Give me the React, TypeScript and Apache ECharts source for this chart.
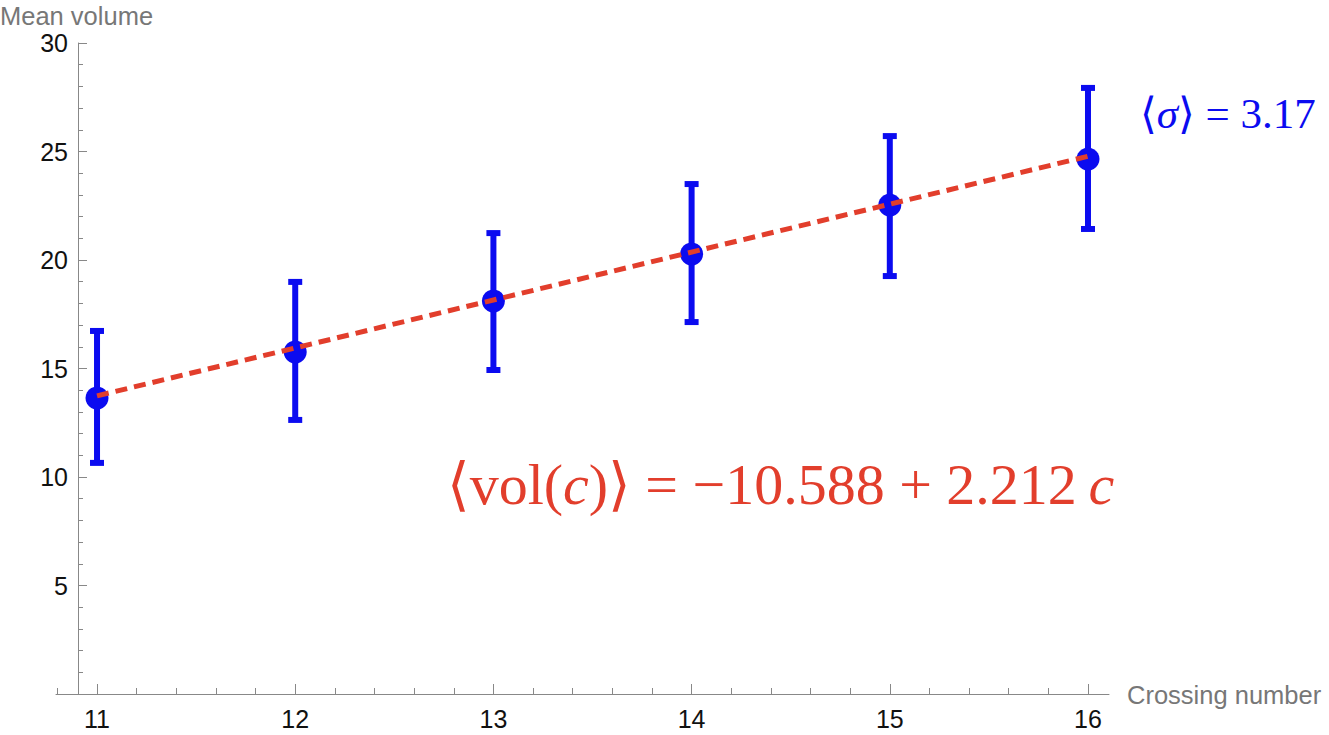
import React, { useEffect, useRef } from "react";
import * as echarts from "echarts";

const crossing = [11, 12, 13, 14, 15, 16];
const meanVolume = [13.64, 15.76, 18.11, 20.28, 22.53, 24.65];
const lowerBound = [10.65, 12.63, 14.93, 17.14, 19.26, 21.43];
const upperBound = [16.73, 18.99, 21.24, 23.5, 25.71, 27.93];
const fitX = [11, 16];
const fitY = [13.74, 24.78];
const xTickValues = [11, 12, 13, 14, 15, 16];
const xMinorTickValues = [
  10.8, 11.2, 11.4, 11.6, 11.8, 12.2, 12.4, 12.6, 12.8, 13.2, 13.4, 13.6, 13.8,
  14.2, 14.4, 14.6, 14.8, 15.2, 15.4, 15.6, 15.8, 16.2,
];
const xLabel = "Crossing number";
const yLabel = "Mean volume";

const BLUE = "#0b0bf0";
const RED = "#e23e2c";
const AXIS = "#888888";
const FONT = "Arial, 'Liberation Sans', Helvetica, sans-serif";
const SERIF = "'Liberation Serif', 'DejaVu Serif', serif";

export default function App() {
  const ref = useRef<HTMLDivElement>(null);
  useEffect(() => {
    if (!ref.current) return;
    const chart = echarts.init(ref.current, undefined, { renderer: "svg" });
    const errData = crossing.map((c, i) => [c, lowerBound[i], upperBound[i]]);
    const meanData = crossing.map((c, i) => [c, meanVolume[i]]);
    const fitData = fitX.map((x, i) => [x, fitY[i]]);
    const option: any = {
      animation: false,
      backgroundColor: "#ffffff",
      grid: { left: 56, right: 220, top: 43, bottom: 41, containLabel: false },
      xAxis: [
        {
          type: "value",
          min: 10.793,
          max: 16.106,
          axisLine: { show: true, lineStyle: { color: AXIS, width: 1 } },
          axisTick: {
            show: true,
            inside: true,
            length: 10,
            customValues: xTickValues,
            lineStyle: { color: AXIS, width: 1 },
          },
          axisLabel: {
            show: true,
            customValues: xTickValues,
            margin: 12,
            color: "#111",
            fontSize: 25,
            fontFamily: FONT,
          },
          splitLine: { show: false },
        },
        {
          type: "value",
          min: 10.793,
          max: 16.106,
          position: "bottom",
          axisLine: { show: false },
          axisTick: {
            show: true,
            inside: true,
            length: 6,
            customValues: xMinorTickValues,
            lineStyle: { color: AXIS, width: 1 },
          },
          axisLabel: { show: false },
          splitLine: { show: false },
        },
      ],
      yAxis: {
        type: "value",
        min: 0,
        max: 30,
        interval: 5,
        offset: -22,
        axisLine: { show: true, onZero: false, lineStyle: { color: AXIS, width: 1 } },
        axisTick: { show: true, inside: true, length: 9, lineStyle: { color: AXIS, width: 1 } },
        minorTick: { show: true, splitNumber: 5, length: 5, lineStyle: { color: AXIS, width: 1 } },
        axisLabel: {
          margin: 10,
          color: "#111",
          fontSize: 25,
          fontFamily: FONT,
          formatter: (v: number) => (v === 0 ? "" : String(v)),
        },
        splitLine: { show: false },
        minorSplitLine: { show: false },
      },
      series: [
        {
          type: "custom",
          xAxisIndex: 0,
          data: errData,
          encode: { x: 0, y: [1, 2] },
          z: 2,
          renderItem: (params: any, api: any) => {
            const x = api.value(0);
            const lo = api.coord([x, api.value(1)]);
            const hi = api.coord([x, api.value(2)]);
            const hw = 7;
            const st = { stroke: BLUE, lineWidth: 6 };
            return {
              type: "group",
              children: [
                { type: "line", shape: { x1: lo[0], y1: lo[1], x2: hi[0], y2: hi[1] }, style: st },
                { type: "line", shape: { x1: lo[0] - hw, y1: lo[1], x2: lo[0] + hw, y2: lo[1] }, style: st },
                { type: "line", shape: { x1: hi[0] - hw, y1: hi[1], x2: hi[0] + hw, y2: hi[1] }, style: st },
              ],
            };
          },
        },
        {
          type: "scatter",
          xAxisIndex: 0,
          data: meanData,
          symbol: "circle",
          symbolSize: 23,
          itemStyle: { color: BLUE, opacity: 1 },
          z: 3,
        },
        {
          type: "line",
          xAxisIndex: 0,
          data: fitData,
          showSymbol: false,
          symbol: "none",
          lineStyle: { color: RED, width: 5, type: [12, 7] },
          z: 4,
        },
      ],
      graphic: [
        {
          type: "text",
          left: 0,
          top: 3,
          style: { text: yLabel, fontSize: 25.5, fontFamily: FONT, fill: "#777777" },
        },
        {
          type: "text",
          left: 1127,
          top: 682,
          style: { text: xLabel, fontSize: 25.5, fontFamily: FONT, fill: "#777777" },
        },
        {
          type: "text",
          x: 447,
          y: 484,
          style: {
            text: "{n|\u27E8vol(}{i|c}{n|)\u27E9 = \u221210.588 + 2.212\u2009}{i|c}",
            verticalAlign: "middle",
            align: "left",
            rich: {
              n: { fontSize: 58, fontFamily: SERIF, fill: RED, color: RED },
              i: { fontSize: 58, fontFamily: SERIF, fontStyle: "italic", fill: RED, color: RED },
            },
          },
        },
        {
          type: "text",
          x: 1140,
          y: 113,
          style: {
            text: "{n|\u27E8}{i|\u03C3}{n|\u27E9 = 3.17}",
            verticalAlign: "middle",
            align: "left",
            rich: {
              n: { fontSize: 43, fontFamily: SERIF, fill: BLUE, color: BLUE },
              i: { fontSize: 43, fontFamily: SERIF, fontStyle: "italic", fill: BLUE, color: BLUE },
            },
          },
        },
      ],
    };
    chart.setOption(option);
    return () => chart.dispose();
  }, []);
  return (
    <div
      ref={ref}
      style={{ position: "fixed", left: 0, top: 0, width: 1329, height: 735, background: "#fff" }}
    />
  );
}
